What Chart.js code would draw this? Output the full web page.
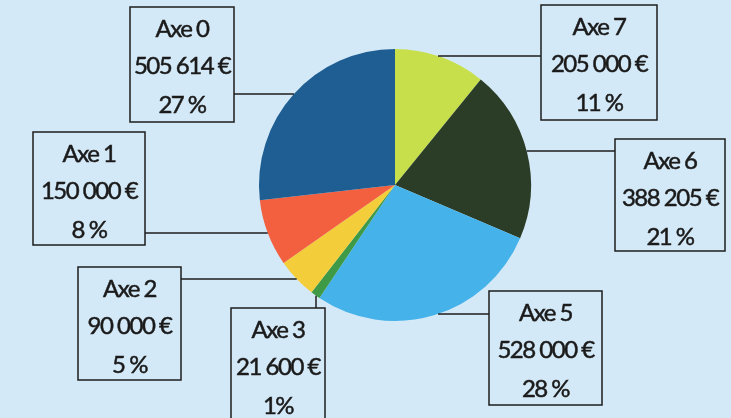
<!DOCTYPE html>
<html>
<head>
<meta charset="utf-8">
<script src="https://cdn.jsdelivr.net/npm/chart.js@4"></script>
<style>
  html, body { margin: 0; padding: 0; background: #d4e9f7; }
  #wrap { width: 731px; height: 418px; }
</style>
</head>
<body>
<div id="wrap"><canvas id="pie"></canvas></div>
<script>
// slices in drawing order (clockwise from 12 o'clock)
const categories = ['Axe 7', 'Axe 6', 'Axe 5', 'Axe 3', 'Axe 2', 'Axe 1', 'Axe 0'];
const amounts = [205000, 388205, 528000, 21600, 90000, 150000, 505614];
const percentLabels = ['11 %', '21 %', '28 %', '1%', '5 %', '8 %', '27 %'];

const couleurs = ['#c6df4a', '#2c3d27', '#45b2ea', '#3f9a48', '#f4cd3b', '#f2603f', '#1e5e92'];

function euros(v) {
  return String(v).replace(/\B(?=(\d{3})+(?!\d))/g, ' ') + ' €';
}

// label boxes : x, y, w, h + where the leader line leaves the box
const boites = {
  'Axe 0': { x: 130, y: 7,   w: 104, h: 115, side: 'right', ly: 94 },
  'Axe 1': { x: 33,  y: 132, w: 112, h: 113, side: 'right', ly: 233 },
  'Axe 2': { x: 78,  y: 267, w: 103, h: 113, side: 'right', ly: 279 },
  'Axe 3': { x: 231, y: 308, w: 94,  h: 115, side: 'top',   lx: 316 },
  'Axe 5': { x: 489, y: 291, w: 113, h: 114, side: 'left',  ly: 314 },
  'Axe 6': { x: 615, y: 139, w: 110, h: 112, side: 'left',  ly: 151 },
  'Axe 7': { x: 541, y: 5,   w: 116, h: 115, side: 'left',  ly: 56 }
};

const etiquettes = {
  id: 'etiquettes',
  afterDatasetsDraw(chart) {
    const ctx = chart.ctx;
    const arc = chart.getDatasetMeta(0).data[0];
    const cx = arc.x, cy = arc.y, r = arc.outerRadius;
    ctx.save();
    ctx.strokeStyle = '#1d1d1d';
    ctx.fillStyle = '#1a1a1a';
    ctx.font = '24px Lato';
    ctx.letterSpacing = '-1.5px';
    ctx.textAlign = 'center';
    ctx.textBaseline = 'middle';
    categories.forEach((cat, i) => {
      const b = boites[cat];
      ctx.lineWidth = 1.5;
      ctx.strokeRect(b.x, b.y, b.w, b.h);
      ctx.beginPath();
      if (b.side === 'top') {
        const dy = Math.sqrt(Math.max(r * r - (b.lx - cx) * (b.lx - cx), 0));
        ctx.moveTo(b.lx, b.y);
        ctx.lineTo(b.lx, cy + dy);
      } else {
        const dx = Math.sqrt(Math.max(r * r - (b.ly - cy) * (b.ly - cy), 0));
        if (b.side === 'right') {
          ctx.moveTo(b.x + b.w, b.ly);
          ctx.lineTo(cx - dx, b.ly);
        } else {
          ctx.moveTo(b.x, b.ly);
          ctx.lineTo(cx + dx, b.ly);
        }
      }
      ctx.stroke();
      const mx = b.x + b.w / 2;
      const lignes = [[cat, 22], [euros(amounts[i]), 59], [percentLabels[i], 98]];
      ctx.lineWidth = 0.5;
      lignes.forEach(([txt, dy]) => {
        ctx.fillText(txt, mx, b.y + dy, b.w - 2);
        ctx.strokeText(txt, mx, b.y + dy, b.w - 2);
      });
    });
    ctx.restore();
  }
};

new Chart(document.getElementById('pie'), {
  type: 'pie',
  data: {
    labels: categories,
    datasets: [{
      data: amounts,
      backgroundColor: couleurs,
      borderWidth: 0
    }]
  },
  options: {
    responsive: true,
    maintainAspectRatio: false,
    animation: false,
    layout: { padding: { left: 259, right: 200, top: 49, bottom: 97 } },
    plugins: {
      legend: { display: false },
      tooltip: { enabled: false }
    }
  },
  plugins: [etiquettes]
});
</script>
</body>
</html>
